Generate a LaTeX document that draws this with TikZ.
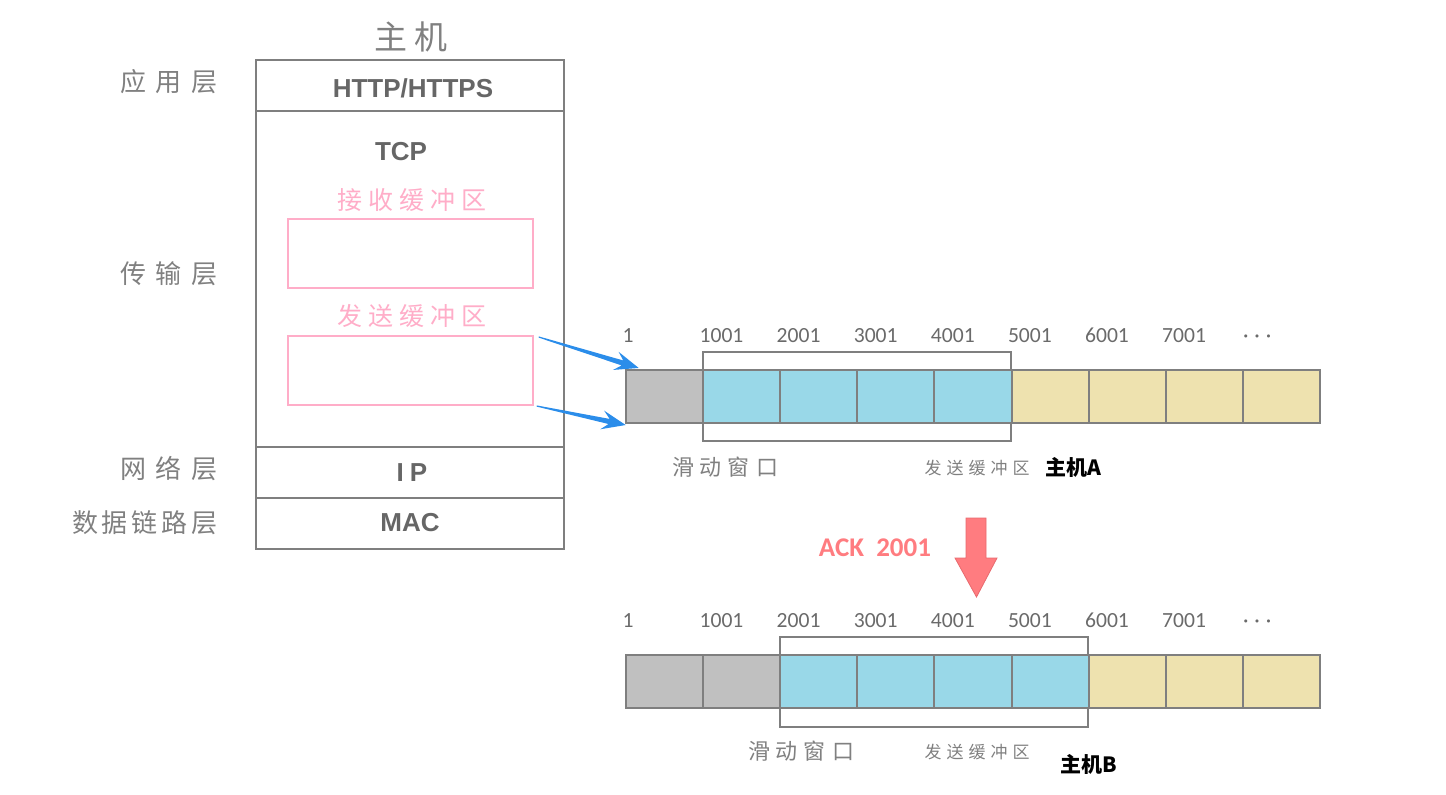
\documentclass[tikz,border=0pt]{standalone}
\usepackage{fontspec}
\usetikzlibrary{calc}
\setmainfont{Liberation Sans}
\newfontfamily\cjk{Noto Sans CJK SC}
\newfontfamily\numf{Carlito}
\definecolor{labgray}{HTML}{808080}
\definecolor{txtgray}{HTML}{666666}
\definecolor{numgray}{HTML}{6A6A6A}
\definecolor{pinkc}{HTML}{FFADC8}
\definecolor{cellgray}{HTML}{C0C0C0}
\definecolor{cellblue}{HTML}{99D8E8}
\definecolor{celltan}{HTML}{EEE2AF}
\definecolor{edgegray}{HTML}{7F7F7F}
\definecolor{arrowblue}{HTML}{2B8DEA}
\definecolor{ackred}{HTML}{FF7C80}
\definecolor{ackedge}{HTML}{E86A6E}
\newcommand\fsz[1]{\fontsize{#1}{#1}\selectfont}
\begin{document}
\begin{tikzpicture}[x=0.5pt,y=-0.5pt,
  txt/.style={inner sep=0pt, outer sep=0pt},
  layerlbl/.style={txt, text=labgray, font=\cjk\fsz{13pt}},
  proto/.style={txt, text=txtgray, font=\bfseries\fsz{13pt}},
  pinklbl/.style={txt, text=pinkc, font=\cjk\fsz{12.5pt}},
  pinkbox/.style={draw=pinkc, line width=1pt, minimum width=122.5pt, minimum height=34.5pt, inner sep=0pt},
  cellbox/.style={draw=edgegray, line width=1pt, minimum width=38.55pt, minimum height=26.3pt, inner sep=0pt},
  winbox/.style={draw=edgegray, line width=1pt, inner sep=0pt},
  numlbl/.style={txt, anchor=base west, text=numgray, font=\numf\fsz{10.8pt}},
  winlbl/.style={txt, text=labgray, font=\cjk\fsz{11pt}},
  buflbl/.style={txt, text=labgray, font=\cjk\fsz{8.5pt}},
  hostlbl/.style={txt, anchor=west, text=black, font=\cjk\bfseries\fsz{10.5pt}},
  bluearrow/.style={fill=arrowblue}
]
\useasboundingbox (0,0) rectangle (1446,794);

% ---------------- host stack ----------------
\node[txt, text=labgray, font=\cjk\fsz{16.5pt}] (title) at (411,37) {主\kern4pt 机};
\draw[edgegray, line width=1.3pt] (256,60) rectangle (564,549);
\draw[edgegray, line width=1.3pt] (256,111) -- (564,111);
\draw[edgegray, line width=1.3pt] (256,447) -- (564,447);
\draw[edgegray, line width=1.3pt] (256,498) -- (564,498);

\node[layerlbl, anchor=east] (l1) at (218,82) {应\kern5pt 用\kern5pt 层};
\node[layerlbl, anchor=east] (l2) at (218,274) {传\kern5pt 输\kern5pt 层};
\node[layerlbl, anchor=east] (l3) at (218,469) {网\kern5pt 络\kern5pt 层};
\node[layerlbl, anchor=east] (l4) at (218,523) {数\kern2pt 据\kern2pt 链\kern2pt 路\kern2pt 层};

\node[proto] (http) at (413,88) {HTTP/HTTPS};
\node[proto] (tcp) at (401,152) {TCP};
\node[proto] (ip) at (412,473) {I\kern3pt P};
\node[proto] (mac) at (410,523) {MAC};

\node[pinklbl] (recvlbl) at (412,200) {接\kern3pt 收\kern3pt 缓\kern3pt 冲\kern3pt 区};
\node[pinkbox] (recvbuf) at (410.2,253.5) {};
\node[pinklbl] (sendlbl) at (412,316) {发\kern3pt 送\kern3pt 缓\kern3pt 冲\kern3pt 区};
\node[pinkbox] (sendbuf) at (410.2,370.5) {};

% ---------------- host A buffer ----------------
\node[winbox, minimum width=154pt, minimum height=44.5pt] (winA) at (857,396.2) {};
\foreach \i/\c in {1/cellgray,2/cellblue,3/cellblue,4/cellblue,5/cellblue,6/celltan,7/celltan,8/celltan,9/celltan}{
  \node[cellbox, fill=\c] (a\i) at ({626+77.1*(\i-1)+38.55},396.2) {};
}
\foreach \i/\t in {1/1,2/1001,3/2001,4/3001,5/4001,6/5001,7/6001,8/7001}{
  \node[numlbl] (na\i) at ({622.5+77.1*(\i-1)},342.5) {\t};
}
\node[numlbl] (na9) at (1243,342) {·\kern3pt ·\kern3pt ·};
\node[winlbl] (wlA) at (725,467) {滑\kern3pt 动\kern3pt 窗\kern3pt 口};
\node[buflbl] (blA) at (977,468) {发\kern2.5pt 送\kern2.5pt 缓\kern2.5pt 冲\kern2.5pt 区};
\node[hostlbl] (hA) at (1045,467) {主机A};

% blue arrows from send buffer to host A buffer
\coordinate (s1) at ($(sendbuf.north east)+(5,2)$);
\coordinate (s2) at ($(sendbuf.south east)+(3,0)$);
\begin{scope}[shift={(s1)}, rotate=-17.2]
  \fill[bluearrow] (0,-0.6) -- (87.7,-2.6) -- (80.7,-9.5) -- (104.7,0) -- (80.7,9.5) -- (87.7,2.6) -- (0,0.6) -- cycle;
\end{scope}
\begin{scope}[shift={(s2)}, rotate=-12.05]
  \fill[bluearrow] (0,-0.6) -- (74,-2.6) -- (67,-9.5) -- (91,0) -- (67,9.5) -- (74,2.6) -- (0,0.6) -- cycle;
\end{scope}

% ---------------- ACK ----------------
\node[txt, text=ackred, font=\numf\bfseries\fsz{13.5pt}] (ack) at (875,548) {ACK\ \ 2001};
\fill[ackred, draw=ackedge, line width=0.4pt] (966,518) -- (986,518) -- (986,558) -- (997,558) -- (976.5,597) -- (955,558) -- (966,558) -- cycle;

% ---------------- host B buffer ----------------
\node[winbox, minimum width=154pt, minimum height=45pt] (winB) at (934.1,681.7) {};
\foreach \i/\c in {1/cellgray,2/cellgray,3/cellblue,4/cellblue,5/cellblue,6/cellblue,7/celltan,8/celltan,9/celltan}{
  \node[cellbox, fill=\c] (b\i) at ({626+77.1*(\i-1)+38.55},681.5) {};
}
\foreach \i/\t in {1/1,2/1001,3/2001,4/3001,5/4001,6/5001,7/6001,8/7001}{
  \node[numlbl] (nb\i) at ({622.5+77.1*(\i-1)},627.5) {\t};
}
\node[numlbl] (nb9) at (1243,627) {·\kern3pt ·\kern3pt ·};
\node[winlbl] (wlB) at (801,751) {滑\kern3pt 动\kern3pt 窗\kern3pt 口};
\node[buflbl] (blB) at (977,752) {发\kern2.5pt 送\kern2.5pt 缓\kern2.5pt 冲\kern2.5pt 区};
\node[hostlbl] (hB) at (1060,764) {主机B};
\end{tikzpicture}
\end{document}
